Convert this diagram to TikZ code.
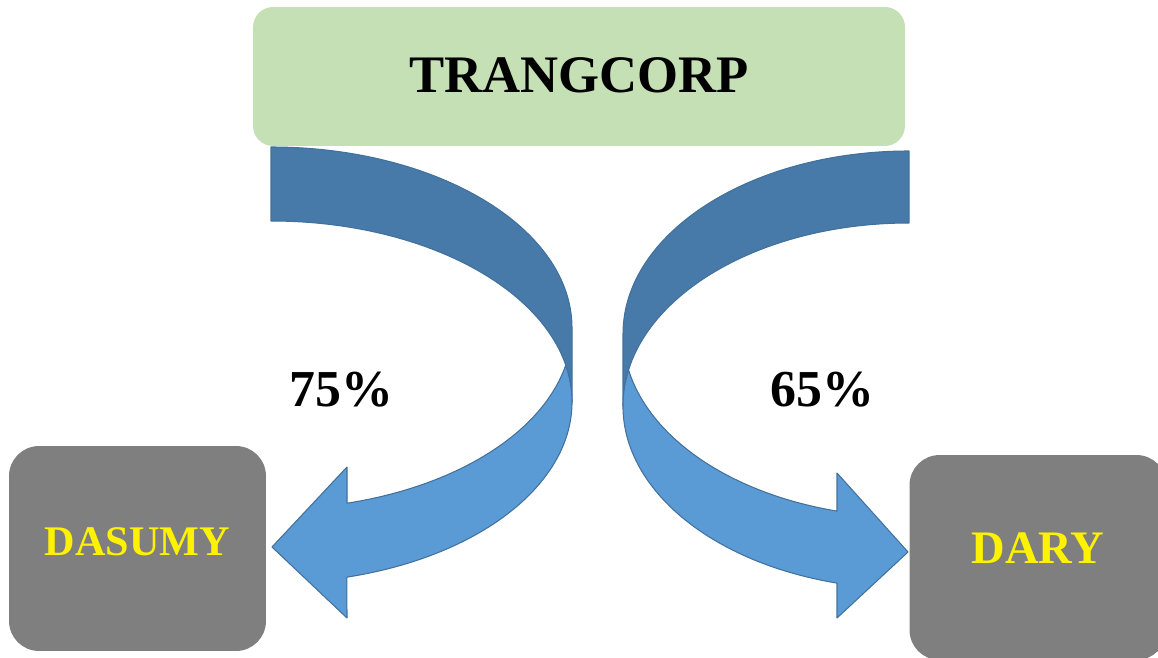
\documentclass[tikz,border=0pt]{standalone}
\usepackage{fontspec}
\setmainfont{Liberation Serif}
\definecolor{corpgreen}{RGB}{197,224,180}
\definecolor{unitgray}{RGB}{127,127,127}
\definecolor{backblue}{RGB}{71,122,169}
\definecolor{frontblue}{RGB}{91,155,213}
\definecolor{edgeblue}{RGB}{65,113,156}
\begin{document}
\begin{tikzpicture}[x=0.02cm,y=-0.02cm]
        \tikzstyle{block} = [rectangle, rounded corners=.6cm, text centered, inner sep=0pt, minimum width=5.14cm, minimum height=4.1cm]
        \tikzstyle{band} = [draw=edgeblue, line width=.6pt, line join=round]
        \tikzstyle{pct} = [font=\fontsize{29.5pt}{34pt}\selectfont\bfseries, text=black]
        \useasboundingbox (0,0) rectangle (1158,658);
        \clip (0,0) rectangle (1158,658);
        \node[block,fill=corpgreen,rounded corners=.4cm,minimum width=13.04cm,minimum height=2.78cm,text height=19.9pt,text depth=2.2pt,font=\fontsize{30pt}{36pt}\selectfont\bfseries] (corp) at (579,76.5) {TRANGCORP};
        \node[block,fill=unitgray,text=yellow,text height=15.9pt,text depth=8pt,font=\fontsize{24pt}{28pt}\selectfont\bfseries] (dasumy) at (137.5,548.5) {DASUMY};
        \node[block,fill=unitgray,text=yellow,text height=17.5pt,text depth=10.8pt,font=\fontsize{26.5pt}{30pt}\selectfont\bfseries] (dary) at (1038,557.5) {DARY};
        % left arrow, back then front
        \draw[band,fill=backblue] (271,147) arc[start angle=-90,end angle=0,x radius=301,y radius=181] -- (572,402) arc[start angle=0,end angle=-90,x radius=301,y radius=181] -- cycle;
        \draw[band,fill=frontblue] (565.6,365) arc[start angle=-11.8,end angle=75.4,x radius=301,y radius=181] -- (347,618) -- (272,547) -- (347,467) -- (347,503.2) arc[start angle=75.4,end angle=11.8,x radius=301,y radius=181] -- cycle;
        % right arrow, back then front
        \draw[band,fill=backblue] (909,151) arc[start angle=-90,end angle=-180,x radius=286,y radius=183] -- (623,406) arc[start angle=180,end angle=270,x radius=286,y radius=183] -- cycle;
        \draw[band,fill=frontblue] (628.6,370) arc[start angle=191.35,end angle=104.58,x radius=286,y radius=183] -- (837,618) -- (908,552) -- (837,473) -- (837,511.1) arc[start angle=104.58,end angle=168.65,x radius=286,y radius=183] -- cycle;
        \node[pct] (share1) at (341.5,390) {75\%};
        \node[pct] (share2) at (822,389.5) {65\%};
\end{tikzpicture}
\end{document}
